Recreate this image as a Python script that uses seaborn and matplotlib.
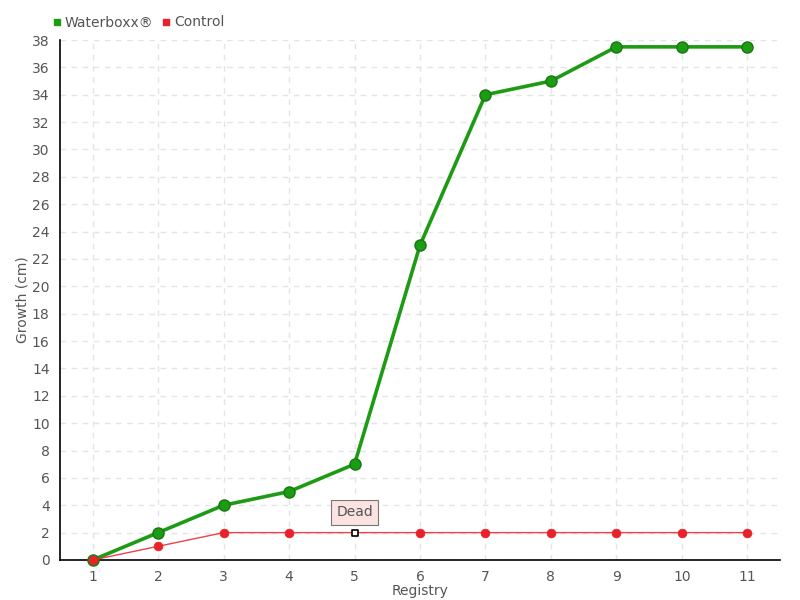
import matplotlib
matplotlib.use("Agg")
import matplotlib.pyplot as plt
from matplotlib.lines import Line2D
import seaborn as sns
import pandas as pd

# Data
registry = [1, 2, 3, 4, 5, 6, 7, 8, 9, 10, 11]
waterboxx = [0, 2, 4, 5, 7, 23, 34, 35, 37.5, 37.5, 37.5]
control = [0, 1, 2, 2, 2, 2, 2, 2, 2, 2, 2]
y_ticks = list(range(0, 39, 2))

dead_index = 4  # registry 5 on control is marked "Dead"

green = "#1e9b14"
red = "#e8212b"
text_col = "#555555"

sns.set_style("white")
plt.rcParams['font.family'] = ['DejaVu Sans']

df = pd.DataFrame({"registry": registry, "Waterboxx®": waterboxx, "Control": control})

fig = plt.figure(figsize=(8, 6), dpi=100)
ax = fig.add_axes([0.075, 0.0667, 0.9, 0.8666])

sns.lineplot(data=df, x="registry", y="Waterboxx®", ax=ax, color=green, linewidth=2.6,
             marker="o", markersize=8, markeredgecolor="#137a0e", markeredgewidth=1,
             zorder=4, clip_on=False)
sns.lineplot(data=df, x="registry", y="Control", ax=ax, color=red, linewidth=1,
             alpha=0.85, zorder=5, clip_on=False)
ctrl_pts = df.drop(index=dead_index)
sns.scatterplot(data=ctrl_pts, x="registry", y="Control", ax=ax, color=red, s=40,
                edgecolor=red, linewidth=0.5, zorder=6, clip_on=False)
ax.scatter([registry[dead_index]], [control[dead_index]], marker="s", s=22,
           facecolor="white", edgecolor="black", linewidth=1.2, zorder=7)
ax.annotate("Dead", xy=(registry[dead_index], control[dead_index]),
            xytext=(registry[dead_index], control[dead_index] + 1.5),
            ha="center", va="center", fontsize=10, color=text_col,
            bbox=dict(boxstyle="square,pad=0.4", facecolor="#fde2e2", edgecolor="#777777", lw=0.8),
            zorder=8)

ax.set_xlim(0.5, 11.5)
ax.set_ylim(0, 38)
ax.set_xticks(registry)
ax.set_yticks(y_ticks)
ax.grid(True, color="#e4e4e4", linestyle=(0, (4, 4)), linewidth=1)
ax.set_axisbelow(True)
for side in ["top", "right"]:
    ax.spines[side].set_visible(False)
for side in ["left", "bottom"]:
    ax.spines[side].set_color("black")
    ax.spines[side].set_linewidth(1.2)
ax.tick_params(axis="both", colors=text_col, labelsize=10, length=4, width=1, direction="out")
ax.tick_params(axis="both", color="black")
ax.set_xlabel("Registry", color=text_col, fontsize=10, labelpad=0)
ax.set_ylabel("Growth (cm)", color=text_col, fontsize=10, labelpad=2)

handles = [Line2D([], [], marker="s", color="none", markerfacecolor=green, markeredgecolor=green, markersize=5),
           Line2D([], [], marker="s", color="none", markerfacecolor=red, markeredgecolor=red, markersize=5)]
fig.legend(handles, ["Waterboxx®", "Control"], loc="upper left", bbox_to_anchor=(0.05, 0.995),
           ncol=2, frameon=False, fontsize=10, handlelength=0.6, handletextpad=0.3,
           columnspacing=0.6, labelcolor=text_col)

fig.savefig("out.png", dpi=100)
